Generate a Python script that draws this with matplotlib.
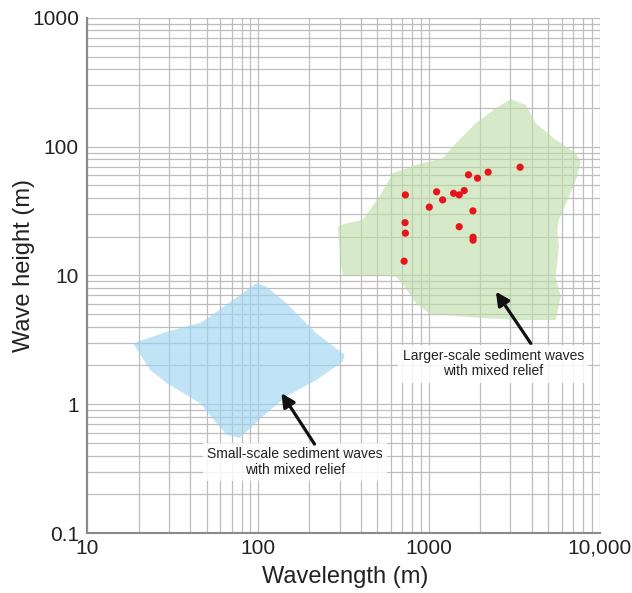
import matplotlib
matplotlib.use("Agg")
import matplotlib.pyplot as plt
from matplotlib.patches import Polygon
from matplotlib.ticker import FixedLocator, LogLocator, NullFormatter, FixedFormatter

plt.rcParams['font.family'] = ['Liberation Sans', 'DejaVu Sans']

# Small-scale sediment waves field (wavelength m, height m)
small_wl = [18.6, 29.2, 45.7, 52.3, 71.2, 97.9, 112, 146, 219, 321, 312, 219,
            146, 106, 78.2, 65.4, 45.7, 29.2, 23.3]
small_h = [2.97, 3.66, 4.28, 4.79, 6.45, 8.7, 8.18, 6.1, 3.57, 2.42, 2.14, 1.54,
           1.15, 0.80, 0.55, 0.58, 1.02, 1.46, 1.85]

# Larger-scale sediment waves field
large_wl = [3013, 3687, 4220, 5520, 7226, 7727, 7380, 6607, 5772, 5640, 5772,
            5520, 5908, 5520, 3221, 1574, 1005, 841, 702, 642, 449, 313, 300,
            293, 328, 410, 513, 614, 841, 1203, 1439, 1883, 2466]
large_h = [233.8, 210.9, 152, 112.8, 88.9, 76.5, 58.5, 40.9, 27, 22.5, 16.7,
           9.8, 6.84, 4.51, 4.51, 4.79, 5.08, 6.08, 8.69, 9.8, 10.1, 10.1, 15.8,
           23.9, 25.4, 27, 40.9, 62.2, 72.1, 81.3, 106.4, 152, 199]

# Observed waves (red points)
obs_wl = [728, 1005, 1109, 1203, 1394, 1504, 1609, 1705, 1925, 2221, 3418,
          1809, 1504, 1813, 1813, 725, 728, 716]
obs_h = [42.2, 33.9, 44.6, 38.6, 43.4, 42.2, 45.6, 60.4, 56.9, 63.4, 69.2,
         31.7, 23.9, 19.8, 18.8, 25.7, 21.3, 12.9]

x_ticks = [10, 100, 1000, 10000]
x_labels = ["10", "100", "1000", "10,000"]
y_ticks = [0.1, 1, 10, 100, 1000]
y_labels = ["0.1", "1", "10", "100", "1000"]

# annotation anchors (text centre, arrow tail, arrow tip)
large_text_pos = (2377, 2.07)
large_arrow_tail = (3945, 2.97)
large_arrow_tip = (2466, 7.48)
small_text_pos = (165, 0.356)
small_arrow_tail = (214, 0.491)
small_arrow_tip = (137, 1.22)

fig = plt.figure(figsize=(6.32, 5.93), dpi=100)
ax = fig.add_axes([0.138, 0.101, 0.811, 0.869])
ax.set_xscale('log')
ax.set_yscale('log')
ax.set_xlim(10, 10000)
ax.set_ylim(0.1, 1000)

ax.xaxis.set_major_locator(FixedLocator(x_ticks))
ax.xaxis.set_major_formatter(FixedFormatter(x_labels))
ax.yaxis.set_major_locator(FixedLocator(y_ticks))
ax.yaxis.set_major_formatter(FixedFormatter(y_labels))
ax.xaxis.set_minor_locator(LogLocator(base=10, subs=range(2, 10)))
ax.yaxis.set_minor_locator(LogLocator(base=10, subs=range(2, 10)))
ax.xaxis.set_minor_formatter(NullFormatter())
ax.yaxis.set_minor_formatter(NullFormatter())
ax.tick_params(which='both', length=0, labelsize=15, colors='#222222')
ax.tick_params(axis='y', pad=6)
ax.tick_params(axis='x', pad=4)
ax.set_axisbelow(True)
ax.grid(which='both', color='#bdbdbd', linewidth=0.9)

for s in ['top', 'right']:
    ax.spines[s].set_visible(False)
for s in ['left', 'bottom']:
    ax.spines[s].set_color('#8a8a8a')
    ax.spines[s].set_linewidth(1.5)

ax.add_patch(Polygon(list(zip(small_wl, small_h)), closed=True,
                     facecolor='#9fd4f0', alpha=0.65, edgecolor='none', zorder=2))
ax.add_patch(Polygon(list(zip(large_wl, large_h)), closed=True,
                     facecolor='#bcdca6', alpha=0.6, edgecolor='none', zorder=2))

ax.scatter(obs_wl, obs_h, s=27, color='#e8141c', edgecolors='none', zorder=4)

bbox = dict(boxstyle='square,pad=0.3', facecolor='white', edgecolor='none', alpha=0.85)
arrow = dict(arrowstyle='-|>,head_length=0.8,head_width=0.4',
             color='#111111', lw=2.3, shrinkA=0, shrinkB=0)

ax.text(*large_text_pos, "Larger-scale sediment waves\nwith mixed relief",
        ha='center', va='center', fontsize=10, color='#222222', bbox=bbox,
        zorder=5, linespacing=1.15)
ax.annotate("", xy=large_arrow_tip, xytext=large_arrow_tail,
            arrowprops=arrow, zorder=6)
ax.text(*small_text_pos, "Small-scale sediment waves\nwith mixed relief",
        ha='center', va='center', fontsize=10, color='#222222', bbox=bbox,
        zorder=5, linespacing=1.15)
ax.annotate("", xy=small_arrow_tip, xytext=small_arrow_tail,
            arrowprops=arrow, zorder=6)

ax.set_xlabel("Wavelength (m)", fontsize=17, color='#222222')
ax.set_ylabel("Wave height (m)", fontsize=17, color='#222222')
ax.xaxis.set_label_coords(0.503, -0.064)
ax.yaxis.set_label_coords(-0.123, 0.52)
ax.yaxis.label.set_va('center')

fig.savefig("out.png", dpi=100, facecolor='white')
